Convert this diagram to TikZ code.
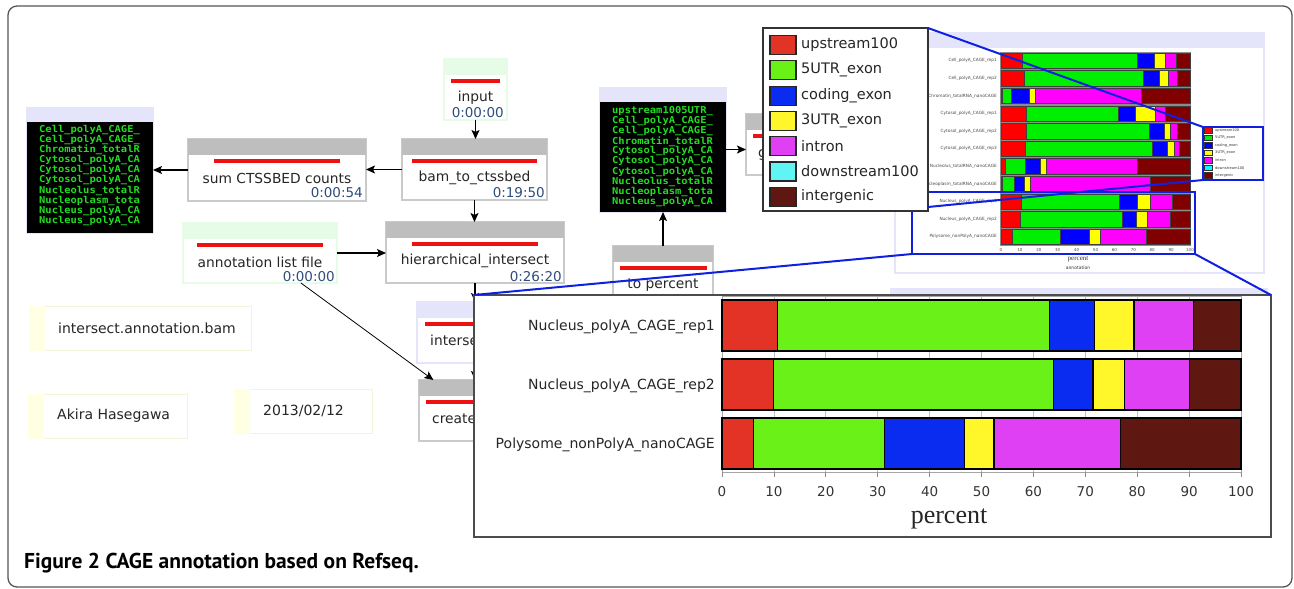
\documentclass[tikz,border=0pt]{standalone}
\usepackage{fontspec}
\setmainfont{DejaVu Sans}
\newfontfamily\lcdfont[FakeStretch=1.1]{DejaVu Sans Mono}
\newfontfamily\capfont{PT Sans}
\newfontfamily\pctfont{Liberation Serif}
\usetikzlibrary{arrows.meta}
\newcommand\fsz[1]{\fontsize{#1}{#1}\selectfont}
\definecolor{hdrgray}{HTML}{BEBEBE}
\definecolor{brdgray}{HTML}{CACACA}
\definecolor{hdrgreen}{HTML}{E6FCE6}
\definecolor{hdrlav}{HTML}{E4E4FA}
\definecolor{barred}{HTML}{EE1111}
\definecolor{timeblue}{HTML}{2F4C7C}
\definecolor{lcdgreen}{HTML}{22DD22}
\definecolor{notey}{HTML}{FFFFE4}
\definecolor{noteb}{HTML}{F4F4DA}
\definecolor{zoomblue}{HTML}{1020E0}
\definecolor{frameg}{HTML}{555555}
\definecolor{cR}{HTML}{E33326}
\definecolor{cG}{HTML}{6AF218}
\definecolor{cB}{HTML}{0A2BF0}
\definecolor{cY}{HTML}{FFF72A}
\definecolor{cM}{HTML}{E040F4}
\definecolor{cC}{HTML}{60F4F4}
\definecolor{cK}{HTML}{5F1712}
\definecolor{tR}{HTML}{FF0000}
\definecolor{tG}{HTML}{00EE00}
\definecolor{tB}{HTML}{0000FF}
\definecolor{tY}{HTML}{FFFF00}
\definecolor{tM}{HTML}{FF00FF}
\definecolor{tC}{HTML}{00FFFF}
\definecolor{tK}{HTML}{800000}
\tikzset{
 wfbody/.style={anchor=north west, fill=white, line width=1.2pt, inner sep=0pt, outer sep=0pt},
 wflabel/.style={inner sep=0pt, font=\fsz{13.8}, text=black!85},
 wftime/.style={anchor=east, inner sep=0pt, font=\fsz{13.5}, text=timeblue},
 conn/.style={line width=1.1pt, -{Stealth[length=9pt,width=8pt,inset=2pt]}},
 connthin/.style={line width=0.8pt, -{Stealth[length=9pt,width=8pt,inset=2pt]}},
 lstbox/.style={anchor=north west, fill=black, draw=hdrlav, line width=1pt, inner sep=0pt, outer sep=0pt, minimum width=127pt, minimum height=126pt},
 lcdtxt/.style={anchor=west, inner sep=0pt, text=lcdgreen, font=\lcdfont\bfseries\fsz{9.5}},
 notebox/.style={anchor=north west, draw=noteb, fill=white, line width=1pt, inner sep=0pt},
 notetxt/.style={anchor=west, inner sep=0pt, font=\fsz{14}, text=black!85},
 panelbox/.style={anchor=north west, inner sep=0pt, outer sep=0pt, fill=white},
 bseg/.style={draw=black, line width=1.2pt},
 tseg/.style={draw=black!75, line width=0.5pt},
 zoomline/.style={draw=zoomblue, line width=2pt},
 rowlab/.style={anchor=east, inner sep=0pt, font=\fsz{14}, text=black!85},
 ticklab/.style={inner sep=0pt, font=\fsz{13.5}, text=black!80},
 legtxt/.style={anchor=west, inner sep=0pt, font=\fsz{14.5}, text=black!85},
 tinylab/.style={anchor=east, inner sep=0pt, font=\fsz{4.3}, text=black!70},
 tinyleg/.style={anchor=west, inner sep=0pt, font=\fsz{3.6}, text=black!80},
}
% job box: name, x, y, width, height, header colour, border colour, bar inset, label
\newcommand\wfbox[9]{%
  \node[wfbody, draw=#7, minimum width=#4pt, minimum height=#5pt] (#1) at (#2,#3) {};
  \fill[#6] (#1.north west) rectangle ([yshift=-16pt]#1.north east);
  \fill[barred] ([xshift=#8pt,yshift=-19.5pt]#1.north west) rectangle ([xshift=-#8pt,yshift=-23.5pt]#1.north east);
  \node[wflabel] (#1-l) at ([yshift=-39pt]#1.north) {#9};
}
\begin{document}
\begin{tikzpicture}[x=1pt,y=-1pt]
\useasboundingbox (0,0) rectangle (1294,589);
\fill[white] (0,0) rectangle (1294,589);
\draw[frameg, line width=1.3pt, rounded corners=9pt] (8,6) rectangle (1292,587);

% ---- workflow nodes ----
\wfbox{input}{444}{59}{63}{61}{hdrgreen}{hdrgreen}{7}{input}
\node[wftime] (input-t) at ([xshift=-3pt,yshift=7pt]input.south east) {0:00:00};
\wfbox{bam}{402}{139}{145}{61}{hdrgray}{brdgray}{10}{bam\_to\_ctssbed}
\node[wftime] (bam-t) at ([xshift=-2pt,yshift=7pt]bam.south east) {0:19:50};
\wfbox{sum}{188}{139}{178}{62}{hdrgray}{brdgray}{26}{sum CTSSBED counts}
\node[wftime] (sum-t) at ([xshift=-3pt,yshift=8pt]sum.south east) {0:00:54};
\wfbox{hi}{386}{222}{178}{61}{hdrgray}{brdgray}{26}{hierarchical\_intersect}
\node[wftime] (hi-t) at ([xshift=-2pt,yshift=6pt]hi.south east) {0:26:20};
\wfbox{annot}{183}{223}{154}{60}{hdrgreen}{hdrgreen}{14}{annotation list file}
\node[wftime] (annot-t) at ([xshift=-2pt,yshift=6pt]annot.south east) {0:00:00};
\wfbox{inter}{417}{302}{116}{61}{hdrlav}{hdrlav}{8}{}
\node[wflabel, anchor=west] (inter-x) at (430,340) {intersect};
\wfbox{create}{419}{380}{112}{61}{hdrgray}{brdgray}{7}{}
\node[wflabel, anchor=west] (create-x) at (432,419) {create};
\wfbox{tp}{613}{246}{100}{62}{hdrgray}{brdgray}{6.5}{to percent}
\wfbox{gnode}{746}{114}{130}{61}{hdrgray}{brdgray}{7}{}
\node[wflabel, anchor=west] (gnode-x) at (758,155) {g};

% listings
\node[lstbox] (list1) at (26,107) {};
\fill[hdrlav] (list1.north west) rectangle ([yshift=-15pt]list1.north east);
\foreach \t [count=\i from 0] in {Cell\_polyA\_CAGE\_, Cell\_polyA\_CAGE\_, Chromatin\_totalR, Cytosol\_polyA\_CA, Cytosol\_polyA\_CA, Cytosol\_polyA\_CA, Nucleolus\_totalR, Nucleoplasm\_tota, Nucleus\_polyA\_CA, Nucleus\_polyA\_CA}
  \node[lcdtxt] (list1-\i) at (39,130+10.1*\i) {\t};
\node[lstbox, minimum height=125pt] (list2) at (599,87) {};
\fill[hdrlav] (list2.north west) rectangle ([yshift=-15pt]list2.north east);
\foreach \t [count=\i from 0] in {upstream1005UTR\_, Cell\_polyA\_CAGE\_, Cell\_polyA\_CAGE\_, Chromatin\_totalR, Cytosol\_polyA\_CA, Cytosol\_polyA\_CA, Cytosol\_polyA\_CA, Nucleolus\_totalR, Nucleoplasm\_tota, Nucleus\_polyA\_CA}
  \node[lcdtxt] (list2-\i) at (612,111+10.1*\i) {\t};

% connectors
\draw[conn] (input.south) -- (input.south |- bam.north);
\draw[conn] (bam.west) -- (bam.west -| sum.east);
\draw[conn] (sum.west) -- (sum.west -| list1.east);
\draw[conn] (bam.south) -- (bam.south |- hi.north);
\draw[conn] (annot.east) -- (annot.east -| hi.west);
\draw[conn] (hi.south) -- (hi.south |- inter.north);
\draw[conn] (inter.south) -- (inter.south |- create.north);
\draw[connthin] (annot) -- (create);
\draw[conn] (tp.north) -- (tp.north |- list2.south);
\draw[conn] (list2.east) -- (list2.east -| gnode.west);

% notes
\node[notebox, minimum width=222pt, minimum height=44pt] (note1) at (29,306) {};
\fill[notey] (note1.north west) rectangle ([xshift=16pt]note1.south west);
\node[notetxt] (note1-t) at (58,328) {intersect.annotation.bam};
\node[notebox, minimum width=159pt, minimum height=44pt] (note2) at (28,394) {};
\fill[notey] (note2.north west) rectangle ([xshift=16pt]note2.south west);
\node[notetxt] (note2-t) at (57,416) {Akira Hasegawa};
\node[notebox, minimum width=138pt, minimum height=44pt] (note3) at (234,389) {};
\fill[notey] (note3.north west) rectangle ([xshift=16pt]note3.south west);
\node[notetxt] (note3-t) at (263,411) {2013/02/12};

% hidden node header under the panel
\fill[hdrlav] (890,288) rectangle (1268,300);

% ---- thumbnail chart ----
\node[panelbox, draw=hdrlav, line width=1.5pt, minimum width=369pt, minimum height=240pt] (thumb) at (895,33) {};
\fill[hdrlav] (thumb.north west) rectangle ([yshift=-15pt]thumb.north east);
\fill[black!45] (1000,51.5) rectangle (1191,246);
\begin{scope}[shift={(1001,0)}, x=1.89pt]
\foreach \ra/\ga/\ba/\ya/\ma [count=\i from 0] in {11.3/72/81/86.8/92.5, 12.5/75.5/83.6/88.6/93, 0.5/5.5/15.2/18/74.1, 13.6/62.1/71/81.8/87.1, 13.6/78.2/86.3/89.8/93, 12.9/80/87.7/91.6/94.3, 2/12.7/20.7/24.1/72, 0.7/6.8/12.5/15.4/78.8, 10.9/62.7/72/79.1/90.4, 10/64.3/71.6/77.3/89.8, 6.1/31.4/46.6/52.3/76.8}{
  \pgfmathsetmacro\yt{53+17.6*\i}
  \draw[tseg, fill=tR] (0,\yt) rectangle (\ra,\yt+15.5);
  \draw[tseg, fill=tG] (\ra,\yt) rectangle (\ga,\yt+15.5);
  \draw[tseg, fill=tB] (\ga,\yt) rectangle (\ba,\yt+15.5);
  \draw[tseg, fill=tY] (\ba,\yt) rectangle (\ya,\yt+15.5);
  \draw[tseg, fill=tM] (\ya,\yt) rectangle (\ma,\yt+15.5);
  \draw[tseg, fill=tK] (\ma,\yt) rectangle (100,\yt+15.5);
}
\foreach \v in {0,10,...,100}
  \node[inner sep=0pt, font=\fsz{4}, text=black!70] (ttk-\v) at (\v,250) {\v};
\end{scope}
\foreach \nm [count=\i from 0] in {Cell\_polyA\_CAGE\_rep1, Cell\_polyA\_CAGE\_rep2, Chromatin\_totalRNA\_nanoCAGE, Cytosol\_polyA\_CAGE\_rep1, Cytosol\_polyA\_CAGE\_rep2, Cytosol\_polyA\_CAGE\_rep3, Nucleolus\_totalRNA\_nanoCAGE, Nucleoplasm\_totalRNA\_nanoCAGE, Nucleus\_polyA\_CAGE\_rep1, Nucleus\_polyA\_CAGE\_rep2, Polysome\_nonPolyA\_nanoCAGE}
  \node[tinylab] (tl-\i) at (997,60.7+17.6*\i) {\nm};
\node[inner sep=0pt, font=\pctfont\fsz{7}, text=black!80] (tpct) at (1078,259) {percent};
\node[inner sep=0pt, font=\fsz{4.5}, text=black!80] (tann) at (1078,268) {annotation};

% small legend
\node[panelbox, draw=zoomblue, line width=1.2pt, minimum width=60pt, minimum height=53pt] (slegend) at (1203,127) {};
\foreach \c/\nm [count=\i from 0] in {tR/upstream100, tG/5UTR\_exon, tB/coding\_exon, tY/3UTR\_exon, tM/intron, tC/downstream100, tK/intergenic}{
  \draw[fill=\c, draw=black!80, line width=0.4pt] (1204.5,127.5+7.5*\i) rectangle (1212,133+7.5*\i);
  \node[tinyleg] (sl-\i) at (1215,130.3+7.5*\i) {\nm};
}
% highlight box
\node[anchor=north west, inner sep=0pt, outer sep=0pt, draw=zoomblue, line width=1.2pt, minimum width=283pt, minimum height=62pt] (hl) at (912,192) {};

% big legend
\node[panelbox, draw=black!80, line width=1.2pt, minimum width=165pt, minimum height=183pt] (legend) at (763,28) {};
\foreach \c/\nm [count=\i from 0] in {cR/upstream100, cG/5UTR\_exon, cB/coding\_exon, cY/3UTR\_exon, cM/intron, cC/downstream100, cK/intergenic}{
  \pgfmathsetmacro\yc{45+25.3*\i}
  \draw[fill=\c, draw=black!85, line width=1.2pt] (770,\yc-9.5) rectangle (796,\yc+9.5);
  \node[legtxt] (leg-\i) at (801,\yc) {\nm};
}

% ---- big chart panel ----
\node[panelbox, draw=black!70, line width=1.2pt, minimum width=797pt, minimum height=242pt] (panel) at (474,295) {};
\begin{scope}[shift={(722,0)}, x=5.19pt]
  \foreach \v in {10,20,...,90} \draw[black!25, line width=0.8pt] (\v,296) -- (\v,472);
  \draw[black!35, line width=1pt] (0,296) rectangle (100,472);
  \foreach \v in {0,10,...,100}{
    \draw[black!45, line width=0.8pt] (\v,472) -- (\v,477);
    \node[ticklab] (tk-\v) at (\v,492) {\v};
  }
  \foreach \yt/\ra/\ga/\ba/\ya/\ma in {300/10.7/63.1/71.7/79.4/90.8, 359/9.9/63.9/71.5/77.6/90.1, 418/6.1/31.3/46.7/52.4/76.8}{
    \draw[bseg, fill=cR] (0,\yt) rectangle (\ra,\yt+51);
    \draw[bseg, fill=cG] (\ra,\yt) rectangle (\ga,\yt+51);
    \draw[bseg, fill=cB] (\ga,\yt) rectangle (\ba,\yt+51);
    \draw[bseg, fill=cY] (\ba,\yt) rectangle (\ya,\yt+51);
    \draw[bseg, fill=cM] (\ya,\yt) rectangle (\ma,\yt+51);
    \draw[bseg, fill=cK] (\ma,\yt) rectangle (100,\yt+51);
  }
\end{scope}
\node[rowlab] (r1) at (715,327) {Nucleus\_polyA\_CAGE\_rep1};
\node[rowlab] (r2) at (715,386) {Nucleus\_polyA\_CAGE\_rep2};
\node[rowlab] (r3) at (715,445) {Polysome\_nonPolyA\_nanoCAGE};
\node[inner sep=0pt, font=\pctfont\fsz{26}, text=black!85] (pct) at (949,519) {percent};

% zoom lines
\draw[zoomline] (legend.north east) -- (slegend.north west);
\draw[zoomline] ([yshift=4pt]legend.south east) -- (slegend.south west);
\draw[zoomline] (hl.south west) -- (panel.north west);
\draw[zoomline] (hl.south east) -- (panel.north east);

% caption
\node[anchor=west, inner sep=0pt, font=\capfont\bfseries\fsz{21.5}] (cap) at (24,563) {Figure 2 CAGE annotation based on Refseq.};
\end{tikzpicture}
\end{document}
